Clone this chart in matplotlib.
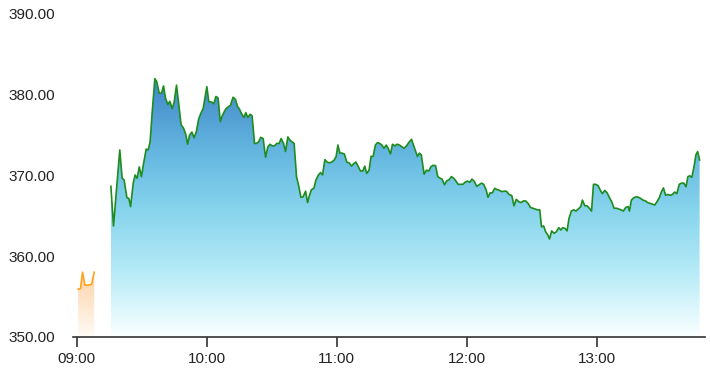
import numpy as np
import matplotlib
matplotlib.use("Agg")
import matplotlib.pyplot as plt
from matplotlib.colors import LinearSegmentedColormap
from matplotlib.patches import PathPatch

# ---- data (minutes after 09:00, price) ----
pre_t = [0.6, 1.7, 2.6, 3.7, 5.2, 6.8, 8.0]
pre_v = [355.9, 356.0, 358.0, 356.4, 356.4, 356.5, 358.0]

main_t = [15.7, 16.9, 19.8, 20.9, 21.8, 23.1, 24.0, 24.8, 26.0, 26.9, 27.8, 28.8, 29.8,
          30.9, 32.0, 32.9, 33.8, 34.9, 36.0, 36.9, 38.0, 39.1, 40.0, 40.9, 42.0, 42.9,
          44.0, 44.9, 46.0, 47.1, 48.1, 49.2, 50.2, 51.1, 52.0, 53.1, 54.1, 55.2, 56.2,
          57.2, 58.3, 59.1, 60.0, 60.9, 62.2, 63.2, 64.2, 65.2, 66.2, 67.1, 68.0, 68.9,
          69.8, 70.9, 72.1, 73.2, 74.1, 75.1, 76.0, 77.1, 78.0, 78.9, 80.0, 80.9, 82.0,
          82.9, 83.9, 84.9, 86.0, 87.1, 88.2, 89.2, 90.1, 91.2, 92.3, 93.4, 94.3, 95.4,
          96.3, 97.4, 98.4, 99.3, 100.3, 101.4, 102.5, 103.4, 104.4, 105.6, 106.5, 107.4,
          108.3, 109.4, 110.4, 111.5, 112.5, 113.4, 114.5, 115.5, 116.6, 117.7, 118.8,
          119.7, 120.5, 121.4, 122.4, 123.5, 124.6, 125.7, 126.8, 127.8, 128.8, 129.8,
          130.9, 132.0, 132.9, 133.8, 134.9, 135.8, 136.8, 137.8, 138.8, 139.8, 140.8,
          141.8, 142.8, 143.7, 144.8, 145.7, 146.8, 147.8, 148.9, 150.0, 151.0, 152.2,
          153.2, 154.5, 157.2, 158.1, 159.0, 160.3, 161.4, 162.5, 163.4, 164.4, 165.6,
          166.6, 167.7, 168.6, 169.7, 170.8, 171.8, 172.9, 174.0, 174.9, 176.0, 177.1,
          178.2, 179.2, 180.3, 181.4, 182.4, 183.5, 184.6, 185.7, 186.8, 187.8, 188.9,
          189.8, 190.8, 191.8, 192.9, 194.0, 195.1, 196.2, 197.2, 198.3, 199.5, 200.8,
          201.8, 202.9, 204.0, 205.1, 206.2, 207.2, 208.3, 209.4, 210.5, 211.5, 212.6,
          213.7, 214.5, 215.5, 216.4, 217.4, 218.2, 219.2, 220.3, 221.4, 222.5, 223.4,
          224.3, 225.4, 226.3, 227.2, 228.3, 229.4, 230.4, 231.5, 232.6, 233.4, 234.5,
          235.5, 236.6, 237.6, 238.5, 239.5, 240.6, 241.7, 242.6, 243.7, 244.8, 245.8,
          246.9, 248.0, 249.1, 250.2, 251.2, 252.3, 253.4, 254.5, 255.1, 256.0, 257.1,
          258.2, 259.3, 260.3, 261.4, 262.5, 263.5, 264.6, 265.7, 266.8, 267.8, 268.9,
          269.8, 270.8, 271.8, 272.9, 273.9, 275.0, 276.0, 277.0, 278.1, 279.2, 280.2,
          281.2, 282.1, 283.0, 283.9, 284.9, 285.8, 286.6, 287.5]
main_v = [368.6, 363.7, 373.1, 369.6, 369.4, 367.2, 367.1, 366.1, 369.0, 370.0, 369.6, 371.0, 369.8,
          371.6, 373.2, 373.1, 374.1, 378.2, 381.9, 381.5, 380.1, 380.1, 381.0, 379.5, 378.7, 379.1,
          378.2, 379.0, 381.1, 378.6, 376.2, 375.8, 375.1, 373.8, 374.9, 375.3, 374.6, 375.4, 376.9,
          377.6, 378.2, 379.5, 380.9, 379.05, 379.0, 378.8, 379.7, 379.5, 376.6, 377.3, 377.8, 378.2,
          378.4, 378.6, 379.6, 379.35, 378.5, 378.1, 377.6, 377.1, 377.7, 377.1, 377.5, 377.3, 373.9,
          373.9, 374.1, 374.65, 374.5, 372.2, 373.5, 373.8, 373.6, 373.6, 373.9, 373.9, 374.5, 373.9,
          372.9, 374.7, 374.3, 374.1, 373.9, 369.8, 368.55, 367.25, 367.3, 368.0, 366.6, 367.5,
          368.2, 368.35, 369.4, 370.0, 370.3, 370.0, 371.9, 371.6, 371.5, 371.6, 371.85,
          372.3, 373.7, 372.7, 372.7, 372.6, 371.6, 371.5, 371.1, 371.4, 371.6, 371.1,
          370.5, 370.5, 371.1, 370.2, 370.6, 372.3, 372.3, 373.7, 374.0, 373.9, 373.7,
          373.3, 373.7, 373.3, 372.6, 373.8, 373.6, 373.8, 373.7, 373.5, 373.3, 373.6,
          374.0, 374.4, 372.3, 372.7, 372.5, 370.1, 370.6, 370.5, 371.0, 371.2, 371.15,
          369.8, 369.6, 369.5, 368.8, 369.3, 369.4, 369.8, 369.6, 369.3, 368.85, 368.85,
          368.85, 369.1, 369.25, 369.1, 369.5, 369.2, 368.6, 368.8, 369.0, 368.85, 368.2,
          367.25, 367.8, 367.8, 368.35, 368.2, 368.1, 367.95, 368.0, 368.0, 367.6, 367.45,
          366.2, 367.0, 366.7, 366.6, 366.8, 366.8, 366.5, 366.0, 365.9, 365.8, 365.7,
          365.7, 363.6, 363.7, 363.0, 362.6, 362.1, 363.1, 362.8, 363.0, 363.5, 363.2,
          363.5, 363.4, 363.1, 364.65, 365.55, 365.7, 365.55, 365.8, 366.1, 366.9, 366.2,
          366.2, 365.9, 365.55, 368.85, 368.85, 368.7, 368.1, 367.7, 368.1, 367.8, 367.25,
          366.7, 365.9, 365.9, 365.8, 365.7, 365.55, 366.0, 366.1, 365.55, 366.9, 367.2,
          367.3, 367.25, 367.1, 366.9, 366.8, 366.6, 366.5, 366.4, 366.3, 366.7, 367.2,
          367.9, 368.4, 367.5, 367.6, 367.5, 367.6, 367.9, 367.7, 368.85, 369.0, 369.0,
          368.55, 369.8, 369.9, 369.7, 371.0, 372.5, 372.9, 371.85]

tick_pos = [0, 60, 120, 180, 240]
tick_labels = ["09:00", "10:00", "11:00", "12:00", "13:00"]
y_ticks = [350, 360, 370, 380, 390]

plt.rcParams['font.family'] = ['Liberation Sans', 'DejaVu Sans']

fig = plt.figure(figsize=(7.10, 3.87), dpi=100)
ax = fig.add_axes([0.1028, 0.1292, 0.8902, 0.8372])

base = 350.0


def gradient_fill(t, v, cmap, top, z):
    coll = ax.fill_between(t, v, base, facecolor='none', edgecolor='none')
    path = coll.get_paths()[0]
    patch = PathPatch(path, transform=ax.transData, facecolor='none', edgecolor='none')
    ax.add_patch(patch)
    grad = np.linspace(0, 1, 256).reshape(-1, 1)
    img = ax.imshow(grad, extent=[min(t), max(t), base, top], aspect='auto',
                    cmap=cmap, origin='lower', zorder=z, interpolation='bicubic')
    img.set_clip_path(patch)


blue_cmap = LinearSegmentedColormap.from_list(
    'blue', [(0.0, '#fbffff'), (0.25, '#b6ebf7'), (0.5, '#85d3ec'),
             (0.72, '#64b6e0'), (1.0, '#4186c8')])
orange_cmap = LinearSegmentedColormap.from_list(
    'orange', [(0.0, '#fffbf6'), (1.0, '#fdd3a6')])

gradient_fill(main_t, main_v, blue_cmap, max(main_v), 1)
gradient_fill(pre_t, pre_v, orange_cmap, max(pre_v), 1)

ax.plot(main_t, main_v, color='#1e8c1e', lw=1.2, zorder=3)
ax.plot(pre_t, pre_v, color='#ffa31a', lw=1.2, zorder=3)

ax.set_xlim(-1.8, 290)
ax.set_ylim(350, 390)
ax.set_xticks(tick_pos)
ax.set_xticklabels(tick_labels)
ax.set_yticks(y_ticks)
ax.set_yticklabels([f"{y:.2f}" for y in y_ticks])

for s in ['left', 'right', 'top']:
    ax.spines[s].set_visible(False)
ax.spines['bottom'].set_color('#333333')
ax.spines['bottom'].set_linewidth(1.2)
ax.tick_params(axis='x', length=7, width=1.2, color='#333333', labelsize=11,
               labelcolor='#222222', pad=4)
ax.tick_params(axis='y', length=0, labelsize=11, labelcolor='#222222', pad=13)

fig.savefig('out.png', dpi=100)
